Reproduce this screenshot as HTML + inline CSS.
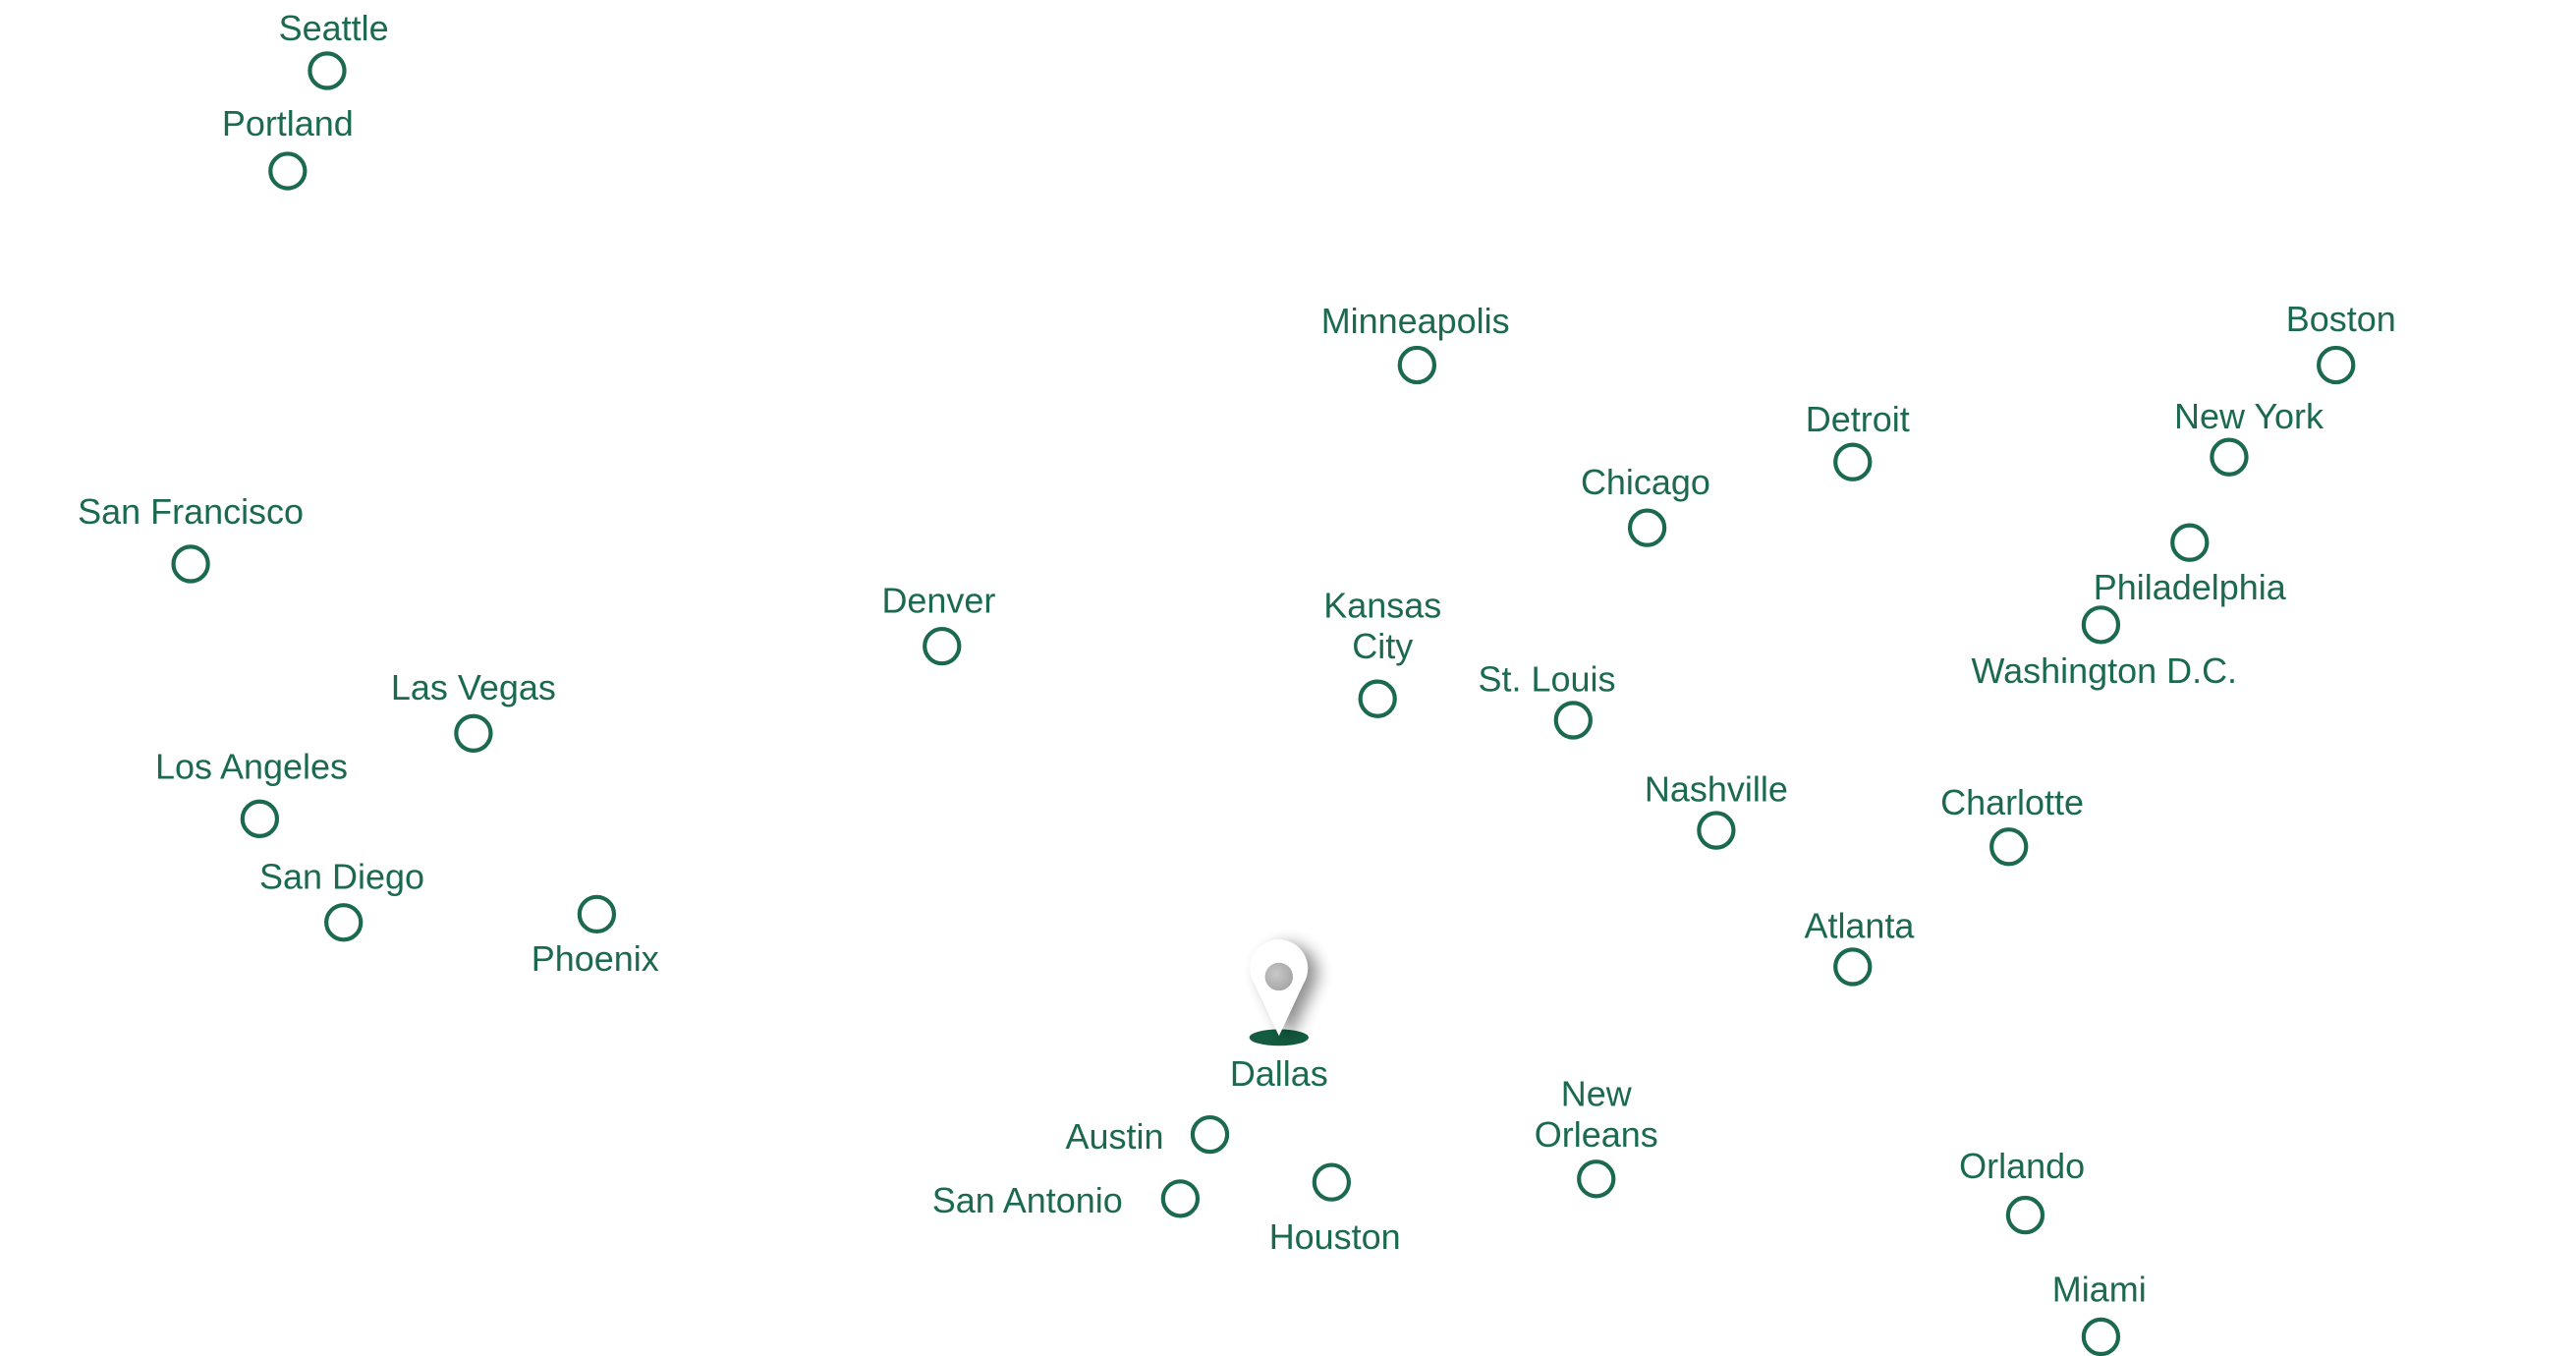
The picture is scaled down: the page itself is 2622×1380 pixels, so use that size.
<!DOCTYPE html>
<html><head><meta charset="utf-8"><style>
html,body{margin:0;padding:0;background:#fff;}
svg{display:block}
text{font-family:"Liberation Sans",sans-serif;font-size:21.5px;fill:#1b6a4f;text-anchor:middle;dominant-baseline:central;}
circle.c{fill:none;stroke:#1b6a4f;stroke-width:2.5}
</style></head><body>
<svg width="2622" height="1380" viewBox="0 0 1567 824.7" preserveAspectRatio="none" xmlns="http://www.w3.org/2000/svg">
<defs>
<filter id="sh" x="-50%" y="-50%" width="200%" height="200%"><feGaussianBlur in="SourceAlpha" stdDeviation="5"/><feOffset dx="6" dy="3"/><feComponentTransfer><feFuncA type="linear" slope="0.45"/></feComponentTransfer><feMerge><feMergeNode/><feMergeNode in="SourceGraphic"/></feMerge></filter>
<radialGradient id="g" cx="0.4" cy="0.4" r="0.6"><stop offset="0" stop-color="#c8c8c8"/><stop offset="1" stop-color="#a8a8a8"/></radialGradient>
</defs>
<circle class="c" cx="199" cy="43" r="10.5"/><text x="203" y="17">Seattle</text>
<circle class="c" cx="175" cy="104" r="10.5"/><text x="175" y="75">Portland</text>
<circle class="c" cx="116" cy="343" r="10.5"/><text x="116" y="311">San Francisco</text>
<circle class="c" cx="288" cy="446" r="10.5"/><text x="288" y="418">Las Vegas</text>
<circle class="c" cx="158" cy="498" r="10.5"/><text x="153" y="466">Los Angeles</text>
<circle class="c" cx="209" cy="561" r="10.5"/><text x="208" y="533">San Diego</text>
<circle class="c" cx="363" cy="556" r="10.5"/><text x="362" y="583">Phoenix</text>
<circle class="c" cx="573" cy="393" r="10.5"/><text x="571" y="365">Denver</text>
<circle class="c" cx="862" cy="222" r="10.5"/><text x="861" y="195">Minneapolis</text>
<circle class="c" cx="838" cy="425" r="10.5"/><text x="841" y="368">Kansas</text><text x="841" y="393">City</text>
<circle class="c" cx="957" cy="438" r="10.5"/><text x="941" y="413">St. Louis</text>
<circle class="c" cx="1002" cy="321" r="10.5"/><text x="1001" y="293">Chicago</text>
<circle class="c" cx="1127" cy="281" r="10.5"/><text x="1130" y="255">Detroit</text>
<circle class="c" cx="1044" cy="505" r="10.5"/><text x="1044" y="480">Nashville</text>
<circle class="c" cx="1127" cy="588" r="10.5"/><text x="1131" y="563">Atlanta</text>
<circle class="c" cx="1222" cy="515" r="10.5"/><text x="1224" y="488">Charlotte</text>
<circle class="c" cx="1421" cy="222" r="10.5"/><text x="1424" y="194">Boston</text>
<circle class="c" cx="1356" cy="278" r="10.5"/><text x="1368" y="253">New York</text>
<circle class="c" cx="1332" cy="330" r="10.5"/><text x="1332" y="357">Philadelphia</text>
<circle class="c" cx="1278" cy="380" r="10.5"/><text x="1280" y="408">Washington D.C.</text>
<circle class="c" cx="1232" cy="739" r="10.5"/><text x="1230" y="709">Orlando</text>
<circle class="c" cx="1278" cy="813" r="10.5"/><text x="1277" y="784">Miami</text>
<circle class="c" cx="971" cy="717" r="10.5"/><text x="971" y="665">New</text><text x="971" y="690">Orleans</text>
<circle class="c" cx="810" cy="719" r="10.5"/><text x="812" y="752">Houston</text>
<circle class="c" cx="736" cy="690" r="10.5"/><text x="678" y="691">Austin</text>
<circle class="c" cx="718" cy="729" r="10.5"/><text x="625" y="730">San Antonio</text>
<ellipse cx="778" cy="631" rx="18" ry="5" fill="#135c40"/>
<path d="M778 630 L763 598 A17.5 17.5 0 1 1 793 598 Z" fill="#fff" filter="url(#sh)"/>
<circle cx="778" cy="594" r="8.5" fill="url(#g)"/>
<text x="778" y="653">Dallas</text>
</svg>
</body></html>
